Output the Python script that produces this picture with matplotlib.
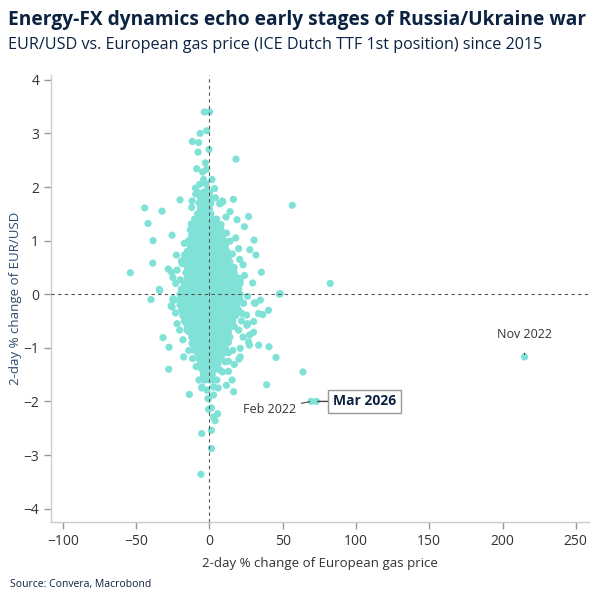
import matplotlib.pyplot as plt
from matplotlib import font_manager

# ---------- data ----------
# scattered points around the dense core (gas % change, EUR/USD % change)
gas_outer = [-3.4, 0.2, -6.3, -1.8, -11.6, -7.3, -0.2, -7.7, 18.2, -2.7, -8.6, -1.8, -4.6,
             -3.9, 1.8, -6.6, -2.3, -9.5, 3.6, -9.3, -1.6, -20.0, -11.8, 4.1, 8.9, 16.4,
             7.0, -44.1, -32.3, -12.0, 56.6, -5.2, 14.1, 26.8, 11.4, 18.9, -41.8, -7.7,
             23.9, -12.3, -25.4, -38.4, 14.1, 30.5, 11.8, 27.7, 31.8, -22.5, -17.0, 15.7,
             -38.6, -18.6, 20.7, 35.5, -53.9, -28.0, -25.7, -24.8, 29.6, 21.1, -23.0,
             -34.1, -19.8, 82.5, 47.7, -39.8, -33.9, 48.4, 9.1, 7.5]
fx_outer = [3.40, 3.40, 3.00, 3.05, 2.85, 2.83, 2.70, 2.65, 2.52, 2.45, 2.34, 2.33, 2.28,
            2.14, 2.14, 2.05, 2.06, 1.98, 1.97, 1.87, 1.94, 1.76, 1.74, 1.80, 1.74, 1.77,
            1.69, 1.61, 1.55, 1.62, 1.66, 1.66, 1.54, 1.45, 1.44, 1.39, 1.32, 1.38,
            1.26, 1.31, 1.10, 1.00, 0.99, 1.01, 1.14, 0.83, 0.73, 0.73, 0.73, 0.75,
            0.58, 0.57, 0.65, 0.41, 0.40, 0.47, 0.41, 0.31, 0.21, 0.26, 0.20,
            0.09, 0.27, 0.20, 0.00, -0.10, 0.07, 0.01, 1.72, 1.69]

gas_lower = [-26.1, -24.8, 34.8, 30.7, 26.1, 40.4, 36.4, 25.4, 30.2, 25.7, 30.2, -31.6,
             -20.2, -27.5, -17.5, -11.4, 33.6, 27.3, 40.7, 45.5, 21.1, 20.2, 17.0, -27.7,
             63.9, 13.0, 15.5, 11.6, 16.6, 39.1, -13.6, -5.2, 2.9, -0.9, 1.4, -0.5, 5.7,
             2.9, 3.9, -5.2, 1.4, 1.4, -5.7, -24.8, -16.8, 26.8, 27.5, 26.1, 23.4, 31.4,
             33.6, 22.3, 20.0, 21.1, 13.2, 10.9, 7.5, -3.9, -5.0, 2.9, 5.2, -0.5, -1.6,
             -6.1, -10.7, -11.8, -15.2, -16.4, -18.6, -24.3, -25.4]
fx_lower = [-0.22, -0.12, -0.11, -0.16, -0.04, -0.30, -0.38, -0.39, -0.51, -0.58, -0.71,
            -0.81, -0.67, -0.99, -1.17, -1.20, -0.95, -0.95, -0.98, -1.18, -1.01, -1.21,
            -1.31, -1.40, -1.45, -1.44, -1.60, -1.70, -1.82, -1.69, -1.87, -1.75, -1.88,
            -1.95, -2.12, -2.15, -2.23, -2.29, -2.36, -2.60, -2.54, -2.88, -3.36, -0.08,
            -0.05, -0.89, -0.76, -0.55, -0.17, -0.17, -0.36, -0.36, -0.67, -1.17, -1.09,
            -1.26, -1.42, -1.53, -1.73, -1.73, -1.60, -1.95, -1.79, -1.23, -1.04, -0.92,
            -0.67, -0.52, -0.24, -0.11, -0.24]

gas_fringe = [-17, -19, -22, 18, 20, 23, 24, -23, -22, 22, 23, -18, -14, 16, 13, -9, 9, -7, 6]
fx_fringe = [0.95, 0.62, 0.45, 1.05, 0.85, 0.55, 0.35, -0.35, -0.55, -0.5, -0.8, -0.85,
             -1.05, -1.05, -1.25, -1.35, -1.45, -1.6, -1.75]

# dense core, one row of gas changes per EUR/USD level
core_fx = [1.9, 1.8, 1.7, 1.6, 1.5, 1.4, 1.3, 1.2, 1.1, 1.0, 0.9, 0.8, 0.7, 0.6, 0.5, 0.4,
           0.3, 0.2, 0.1, 0.0, -0.1, -0.2, -0.3, -0.4, -0.5, -0.6, -0.7, -0.8, -0.9, -1.0,
           -1.1, -1.2, -1.3, -1.4, -1.5, -1.6]
core_gas = [
    [-8, -4, 0],
    [-6, -2, 1],
    [-7, -4, -1, 1],
    [-6, -3, 0],
    [-8, -5, -2, 1],
    [-10, -7, -4, -1, 2, 5],
    [-12, -9, -6, -3, 0, 3, 6, 8],
    [-13, -10, -7, -4, -1, 2, 5, 8],
    [-12, -9, -6, -3, 0, 3, 6, 9],
    [-14, -11, -8, -5, -2, 1, 4, 7, 10],
    [-13, -10, -7, -4, -1, 2, 5, 8, 11],
    [-15, -12, -9, -6, -3, 0, 3, 6, 9, 12],
    [-14, -11, -8, -5, -2, 1, 4, 7, 10, 13],
    [-16, -13, -10, -7, -4, -1, 2, 5, 8, 11, 14],
    [-15, -12, -9, -6, -3, 0, 3, 6, 9, 12, 15, 17],
    [-16, -13, -10, -7, -4, -1, 2, 5, 8, 11, 14, 17],
    [-15, -12, -9, -6, -3, 0, 3, 6, 9, 12, 15, 18, 20],
    [-17, -14, -11, -8, -5, -2, 1, 4, 7, 10, 13, 16, 19, 21],
    [-19, -16, -13, -10, -7, -4, -1, 2, 5, 8, 11, 14, 17, 20],
    [-20, -17, -14, -11, -8, -5, -2, 1, 4, 7, 10, 13, 16, 19, 21],
    [-21, -18, -15, -12, -9, -6, -3, 0, 3, 6, 9, 12, 15, 18, 21],
    [-20, -17, -14, -11, -8, -5, -2, 1, 4, 7, 10, 13, 16, 19],
    [-19, -16, -13, -10, -7, -4, -1, 2, 5, 8, 11, 14, 17, 20],
    [-18, -15, -12, -9, -6, -3, 0, 3, 6, 9, 12, 15, 18],
    [-17, -14, -11, -8, -5, -2, 1, 4, 7, 10, 13, 16],
    [-15, -12, -9, -6, -3, 0, 3, 6, 9, 12, 15, 17],
    [-14, -11, -8, -5, -2, 1, 4, 7, 10, 13],
    [-12, -9, -6, -3, 0, 3, 6, 9, 12, 14],
    [-11, -8, -5, -2, 1, 4, 7, 10, 13],
    [-10, -7, -4, -1, 2, 5, 8, 11],
    [-8, -5, -2, 1, 4, 7, 10],
    [-7, -4, -1, 2, 5, 8],
    [-6, -3, 0, 3, 6],
    [-5, -2, 1, 4],
    [-4, -1, 2],
    [-3, 0, 3],
]

# labelled episodes
event_names = ["Feb 2022", "Mar 2026", "Nov 2022"]
event_gas = [69.5, 73.0, 215.0]
event_fx = [-2.0, -2.0, -1.17]

# ---------- figure ----------
fonts = {f.name for f in font_manager.fontManager.ttflist}
fam = "Open Sans" if "Open Sans" in fonts else "DejaVu Sans"
plt.rcParams["font.family"] = fam

DOT = "#80e2d6"
NAVY = "#0b2341"
TXT = "#333333"

fig = plt.figure(figsize=(6.05, 6.07), dpi=100)
ax = fig.add_axes([51 / 605, 1 - 522 / 607, 538 / 605, 447 / 607])

xs, ys = [], []
for lvl, row in zip(core_fx, core_gas):
    xs += row
    ys += [lvl] * len(row)
xs += gas_outer + gas_lower + gas_fringe
ys += fx_outer + fx_lower + fx_fringe
xs += event_gas
ys += event_fx

ax.scatter(xs, ys, s=27, color=DOT, edgecolors="none", zorder=2)

ax.axhline(0, color="#555555", lw=0.8, ls=(0, (3, 3)), zorder=3)
ax.axvline(0, color="#555555", lw=0.8, ls=(0, (3, 3)), zorder=3)

ax.set_xlim(-108, 259)
ax.set_ylim(-4.25, 4.09)
ax.set_xticks([-100, -50, 0, 50, 100, 150, 200, 250])
ax.set_yticks([-4, -3, -2, -1, 0, 1, 2, 3, 4])

for s in ["top", "right"]:
    ax.spines[s].set_visible(False)
for s in ["left", "bottom"]:
    ax.spines[s].set_color("#cccccc")
    ax.spines[s].set_linewidth(1.0)
ax.tick_params(axis="both", colors="#999999", labelcolor=TXT, labelsize=10, length=5, width=1)

ax.set_xlabel("2-day % change of European gas price", fontsize=9.5, color=TXT, labelpad=6)
ax.set_ylabel("2-day % change of EUR/USD", fontsize=9.5, color="#2b4a6f")
ax.yaxis.set_label_coords((22 - 51) / 538, 0.5)

# annotations
ax.annotate(event_names[2], xy=(event_gas[2], event_fx[2] + 0.05), xytext=(event_gas[2], -0.75),
            ha="center", va="center", fontsize=9, color=TXT,
            arrowprops=dict(arrowstyle="-", color="#444444", lw=1, shrinkA=7, shrinkB=0))
ax.annotate(event_names[0], xy=(event_gas[0], event_fx[0]), xytext=(59, -2.15),
            ha="right", va="center", fontsize=9, color=TXT,
            arrowprops=dict(arrowstyle="-", color="#444444", lw=0.8, shrinkA=2, shrinkB=1))
ax.annotate(event_names[1], xy=(event_gas[1], event_fx[1]), xytext=(84.5, -2.0),
            ha="left", va="center", fontsize=10, fontweight="bold", color=NAVY,
            bbox=dict(boxstyle="square,pad=0.35", fc="white", ec="#999999", lw=1),
            arrowprops=dict(arrowstyle="-", color="#444444", lw=1, shrinkA=0, shrinkB=1))

fig.text(8 / 605, 1 - 20 / 607, "Energy-FX dynamics echo early stages of Russia/Ukraine war",
         fontsize=13.8, fontweight="bold", color=NAVY, va="center", ha="left")
fig.text(8 / 605, 1 - 45 / 607, "EUR/USD vs. European gas price (ICE Dutch TTF 1st position) since 2015",
         fontsize=11.6, color=NAVY, va="center", ha="left")
fig.text(10 / 605, 1 - 585 / 607, "Source: Convera, Macrobond", fontsize=7.5, color=NAVY,
         va="center", ha="left")

fig.savefig("out.png", dpi=100)
